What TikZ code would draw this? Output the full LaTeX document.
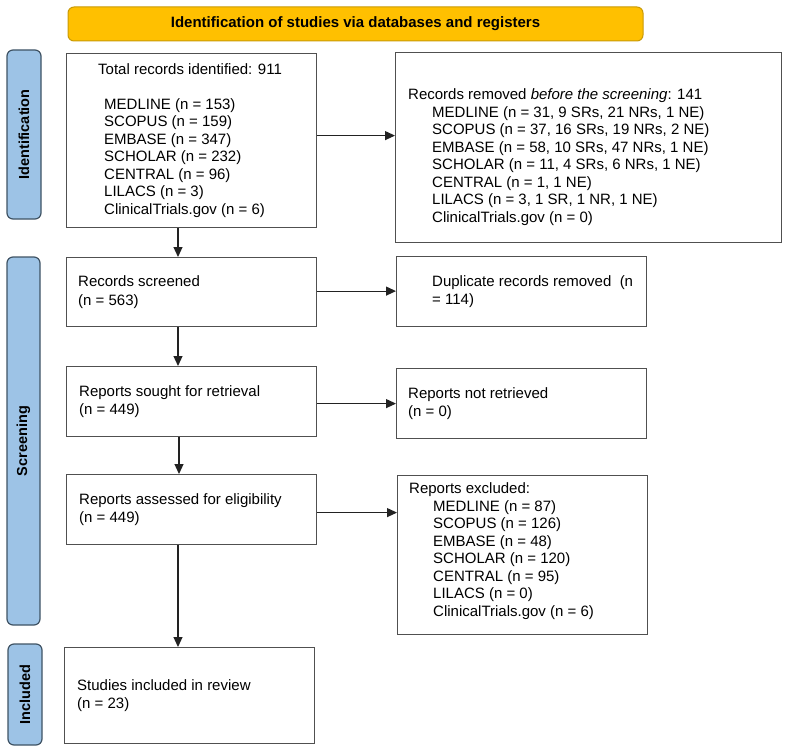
\documentclass[tikz,border=0pt]{standalone}
\usepackage{fontspec}
\setmainfont{Liberation Sans}
\usetikzlibrary{arrows.meta}
\definecolor{bannerfill}{HTML}{FFC000}
\definecolor{bannerdraw}{HTML}{C99A06}
\definecolor{sidefill}{HTML}{9DC3E6}
\definecolor{sidedraw}{HTML}{3F5364}
\definecolor{boxdraw}{HTML}{505050}
\definecolor{arrdraw}{HTML}{222222}
\newcommand{\ind}[1]{\hspace*{#1pt}}
\begin{document}
\begin{tikzpicture}[x=1pt,y=-1pt,
  box/.style={draw=boxdraw, line width=1.2pt, inner sep=0pt, anchor=north west},
  txt/.style={inner sep=0pt, align=left, anchor=west, font=\fontsize{15}{18.5}\selectfont},
  listtxt/.style={inner sep=0pt, align=left, anchor=west, font=\fontsize{15}{17.5}\selectfont},
  side/.style={draw=sidedraw, fill=sidefill, line width=1.2pt, rounded corners=6pt, rotate=90, inner sep=0pt, font=\fontsize{14.5}{17}\selectfont\bfseries},
  banner/.style={draw=bannerdraw, fill=bannerfill, line width=1pt, rounded corners=6pt, inner sep=0pt, font=\fontsize{15}{17}\selectfont\bfseries},
  arr/.style={draw=arrdraw, line width=1.2pt, -{Triangle[length=10pt,width=9pt]}}
]
\useasboundingbox (0,0) rectangle (787,749);

% banner
\node[banner, minimum width=575pt, minimum height=34pt] (ban) at (355.5,24) {Identification of studies via databases and registers};

% side labels
\node[side, minimum width=169pt, minimum height=34pt] (sid) at (24,134.5) {Identification};
\node[side, minimum width=368pt, minimum height=33pt] (scr) at (23.5,441) {Screening};
\node[side, minimum width=101pt, minimum height=34pt] (inc) at (25,694.5) {Included};

% left column boxes
\node[box, minimum width=250pt, minimum height=174pt] (total) at (66,53) {};
\node[listtxt] (totaltxt) at ([xshift=32pt]total.west) {Total records identified: 911\\[17.5pt]
\ind{6}MEDLINE (n = 153)\\
\ind{6}SCOPUS (n = 159)\\
\ind{6}EMBASE (n = 347)\\
\ind{6}SCHOLAR (n = 232)\\
\ind{6}CENTRAL (n = 96)\\
\ind{6}LILACS (n = 3)\\
\ind{6}ClinicalTrials.gov (n = 6)};

\node[box, minimum width=250pt, minimum height=69pt] (screened) at (66,257) {};
\node[txt] (screenedtxt) at ([xshift=12pt]screened.west) {Records screened\\(n = 563)};

\node[box, minimum width=250pt, minimum height=70pt] (sought) at (66,366) {};
\node[txt] (soughttxt) at ([xshift=13pt]sought.west) {Reports sought for retrieval\\(n = 449)};

\node[box, minimum width=250pt, minimum height=70pt] (assessed) at (66,474) {};
\node[txt] (assessedtxt) at ([xshift=13pt]assessed.west) {Reports assessed for eligibility\\(n = 449)};

\node[box, minimum width=250pt, minimum height=96pt] (included) at (64,647) {};
\node[txt] (includedtxt) at ([xshift=13pt]included.west) {Studies included in review\\(n = 23)};

% right column boxes
\node[box, minimum width=386pt, minimum height=190pt] (removed) at (395,52) {};
\node[listtxt] (removedtxt) at ([xshift=13pt,yshift=-9.5pt]removed.west) {Records removed \textit{before the screening}: 141\\
\ind{24}MEDLINE (n = 31, 9 SRs, 21 NRs, 1 NE)\\
\ind{24}SCOPUS (n = 37, 16 SRs, 19 NRs, 2 NE)\\
\ind{24}EMBASE (n = 58, 10 SRs, 47 NRs, 1 NE)\\
\ind{24}SCHOLAR (n = 11, 4 SRs, 6 NRs, 1 NE)\\
\ind{24}CENTRAL (n = 1, 1 NE)\\
\ind{24}LILACS (n = 3, 1 SR, 1 NR, 1 NE)\\
\ind{24}ClinicalTrials.gov (n = 0)};

\node[box, minimum width=250pt, minimum height=70pt] (dup) at (396,256) {};
\node[txt] (duptxt) at ([xshift=36pt]dup.west) {Duplicate records removed\ \ (n\\= 114)};

\node[box, minimum width=250pt, minimum height=70pt] (notret) at (396,368) {};
\node[txt] (notrettxt) at ([xshift=12pt]notret.west) {Reports not retrieved\\(n = 0)};

\node[box, minimum width=250pt, minimum height=159pt] (excl) at (397,475) {};
\node[listtxt] (excltxt) at ([xshift=12pt,yshift=4pt]excl.west) {Reports excluded:\\
\ind{24}MEDLINE (n = 87)\\
\ind{24}SCOPUS (n = 126)\\
\ind{24}EMBASE (n = 48)\\
\ind{24}SCHOLAR (n = 120)\\
\ind{24}CENTRAL (n = 95)\\
\ind{24}LILACS (n = 0)\\
\ind{24}ClinicalTrials.gov (n = 6)};

% connectors
\coordinate (vx) at (178,0);
\draw[arr] (total.south -| vx) -- (screened.north -| vx);
\draw[arr] (screened.south -| vx) -- (sought.north -| vx);
\draw[arr] ([xshift=1pt]sought.south -| vx) -- ([xshift=1pt]assessed.north -| vx);
\draw[arr] (assessed.south -| vx) -- (included.north -| vx);

\draw[arr] ([yshift=5pt]total.east) -- ([yshift=5pt]total.east -| removed.west);
\draw[arr] ([yshift=1pt]screened.east) -- ([yshift=1pt]screened.east -| dup.west);
\draw[arr] ([yshift=-2pt]sought.east) -- ([yshift=-2pt]sought.east -| notret.west);
\draw[arr] ([yshift=-3pt]assessed.east) -- ([yshift=-3pt]assessed.east -| excl.west);
\end{tikzpicture}
\end{document}
